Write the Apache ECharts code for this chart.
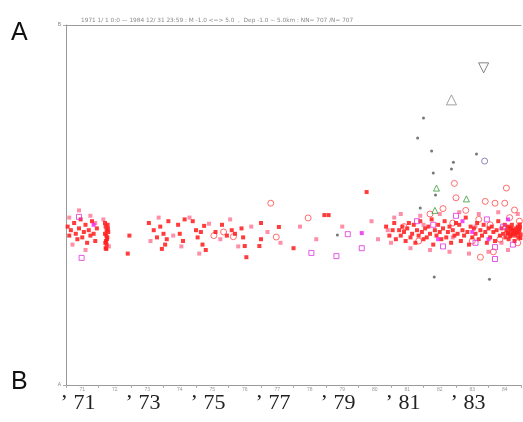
<!DOCTYPE html>
<html>
<head>
<meta charset="utf-8">
<script src="https://cdn.jsdelivr.net/npm/echarts@6/dist/echarts.min.js"></script>
<style>
  html, body { margin: 0; padding: 0; background: #fff; }
  #chart { width: 523px; height: 422px; }
</style>
</head>
<body>
<div id="chart"></div>
<script>
// [decimal year, position along A-B (0 = A, 100 = B)]
const yearTicks = ['71', '72', '73', '74', '75', '76', '77', '78', '79', '80', '81', '82', '83', '84'];

const redDots = [
  [1971.05, 44], [1971.1, 41.5], [1971.15, 43], [1971.25, 45], [1971.3, 42], [1971.35, 40.5],
  [1971.4, 43.5], [1971.45, 46], [1971.5, 41], [1971.55, 42.5], [1971.6, 44.5], [1971.65, 39.5],
  [1971.7, 43], [1971.75, 41.5], [1971.8, 45.5], [1971.85, 42], [1971.9, 40], [1971.95, 43.5],
  [1972.2, 45], [1972.22, 44], [1972.25, 43], [1972.2, 42], [1972.27, 41], [1972.23, 40],
  [1972.25, 39], [1972.22, 38], [1972.28, 44.5], [1972.3, 42.5], [1972.26, 40.5], [1972.21, 39.5],
  [1972.24, 37.8], [1972.29, 43.5], [1972.24, 41.5],
  [1972.95, 41.5], [1972.9, 36.5],
  [1973.55, 45], [1973.7, 43], [1973.8, 41], [1973.9, 44], [1974.0, 42], [1974.05, 39],
  [1974.15, 45.5], [1973.95, 37.8], [1974.1, 40.5],
  [1974.45, 44.5], [1974.5, 42], [1974.6, 40], [1974.65, 46],
  [1974.9, 45.5], [1975.0, 43], [1975.05, 41], [1975.15, 42.5], [1975.2, 39], [1975.25, 44.2], [1975.3, 37.5],
  [1975.6, 42.5], [1975.8, 44.5], [1975.95, 41.5], [1976.1, 43], [1976.2, 42],
  [1976.4, 43.5], [1976.45, 41], [1977.0, 45], [1977.0, 40.5], [1977.55, 43.9],
  [1976.5, 38.6], [1976.95, 38.6], [1976.55, 35.5], [1978.0, 38], [1978.95, 47.2], [1979.08, 47.2],
  [1980.25, 53.6],
  [1980.85, 44], [1980.95, 41.5], [1981.05, 43], [1981.1, 45], [1981.15, 40.5],
  [1981.25, 43], [1981.3, 41.5], [1981.35, 44], [1981.4, 42.5], [1981.45, 40], [1981.5, 43.5],
  [1981.55, 45], [1981.6, 41], [1981.65, 42], [1981.7, 44.5], [1981.75, 39.5], [1981.8, 43],
  [1981.85, 41.5], [1981.9, 45.5], [1981.95, 42.5], [1982.0, 40.5],
  [1982.05, 43.5], [1982.1, 41], [1982.15, 44], [1982.2, 42], [1982.25, 46], [1982.3, 39],
  [1982.35, 43], [1982.4, 41.5], [1982.45, 44.5], [1982.5, 42.5],
  [1982.55, 40.5], [1982.6, 43.5], [1982.65, 45.5], [1982.7, 41], [1982.75, 42.5], [1982.8, 44],
  [1982.85, 39.5], [1982.9, 43], [1982.95, 41.5], [1983.0, 45],
  [1983.05, 42], [1983.1, 44.5], [1983.15, 40], [1983.2, 43], [1983.25, 41.5], [1983.3, 46.5],
  [1983.35, 42.5], [1983.4, 39], [1983.45, 44], [1983.5, 41],
  [1983.55, 43.5], [1983.6, 42], [1983.65, 45], [1983.7, 40.5], [1983.75, 43], [1983.8, 41.5],
  [1983.85, 44.5], [1983.9, 42.5], [1983.95, 39.5], [1984.0, 43.5],
  [1984.05, 41], [1984.1, 44], [1984.15, 42.5], [1984.2, 40], [1984.25, 43], [1984.3, 45.5],
  [1984.35, 41.5], [1984.4, 43.5], [1984.45, 42], [1984.5, 44.5],
  [1984.52, 41], [1984.55, 43], [1984.58, 42], [1984.6, 44], [1984.62, 40.5], [1984.65, 43.5],
  [1984.68, 42.5], [1984.7, 41.5], [1984.72, 44.5], [1984.75, 42], [1984.78, 43], [1984.8, 40],
  [1984.82, 41.5], [1984.85, 43.5], [1984.88, 42.5], [1984.9, 44], [1984.92, 41], [1984.95, 42.8],
  [1984.97, 43.8], [1984.99, 41.8], [1984.6, 42.3], [1984.66, 41.3], [1984.74, 43.2], [1984.84, 42.2],
  [1984.93, 43.3], [1984.98, 40.8], [1984.7, 43.6], [1984.8, 42.6], [1984.9, 42.1], [1984.96, 44.6]
];

const pinkDots = [
  [1971.1, 46.5], [1971.2, 39], [1971.4, 48.5], [1971.6, 37.5], [1971.75, 47], [1971.9, 45],
  [1972.15, 46], [1972.32, 38.5],
  [1973.6, 40], [1973.85, 46.5], [1974.3, 41.5], [1974.55, 38.5], [1974.8, 46.5], [1975.1, 36.5],
  [1975.4, 44.8], [1975.75, 40.5], [1976.05, 46], [1976.3, 38.5], [1976.7, 44], [1977.2, 42.5],
  [1977.6, 39.5], [1978.2, 44], [1978.7, 40.5], [1979.5, 44], [1980.4, 45.5], [1980.6, 40.5],
  [1980.9, 43], [1981.0, 39.5], [1981.1, 46.5],
  [1981.3, 47.5], [1981.6, 38], [1981.9, 47], [1982.2, 37.5], [1982.5, 47.5], [1982.8, 37],
  [1983.1, 48], [1983.4, 36.5], [1983.7, 47.5], [1984.0, 37], [1984.3, 48], [1984.6, 37.5],
  [1984.9, 47.5], [1982.0, 44.5], [1982.9, 41], [1983.6, 44], [1984.4, 39.5]
];

const redCircles = [
  [1975.55, 41.5], [1975.85, 42.5], [1976.15, 41.2], [1977.3, 50.5], [1977.47, 41.1], [1978.45, 46.4],
  [1981.4, 44], [1981.85, 40], [1982.2, 47.5], [1982.6, 49], [1982.9, 45], [1983.0, 52],
  [1983.3, 48.5], [1983.5, 40], [1983.7, 46], [1983.9, 51], [1984.05, 44.5], [1984.2, 50.5],
  [1984.35, 40.5], [1984.5, 50.5], [1984.55, 54.7], [1984.65, 46.5], [1984.8, 48.6], [1984.9, 39.5],
  [1984.95, 45.5], [1983.75, 35.5], [1984.15, 37], [1982.95, 56]
];

const magentaSquares = [
  [1971.4, 46.7], [1971.48, 35.3], [1978.55, 36.7], [1979.32, 35.8], [1979.67, 41.9], [1980.1, 38],
  [1984.2, 38.3], [1984.2, 35], [1981.8, 45.5], [1982.6, 38.5], [1983.0, 47], [1983.6, 39.5],
  [1983.95, 46], [1984.45, 44], [1984.75, 39], [1982.3, 44.5]
];

const magentaDots = [
  [1980.1, 42.2], [1971.85, 44.5], [1982.45, 40.5], [1983.2, 45.5], [1984.0, 40.5], [1984.6, 46], [1983.5, 42.5]
];

const grayDots = [
  [1979.35, 41.7], [1982.33, 30], [1984.03, 29.4], [1982.92, 61.9], [1982.86, 60], [1982.3, 58.9],
  [1981.9, 49.2], [1981.82, 68.6], [1983.63, 64.2], [1982.37, 52.8], [1982.0, 74.2], [1982.25, 65]
];

const greenTriangles = [[1982.4, 54.7], [1983.32, 51.7], [1982.35, 48.5]];
const blueCircles = [[1983.88, 62.2]];
const bigTriUp = [[1982.86, 79.2]];
const bigTriDown = [[1983.85, 88.1]];

const header = '1971 1/ 1 0:0 \u2014 1984 12/ 31 23:59 : M -1.0 <=> 5.0  ,  Dep -1.0 ~ 5.0km : NN= 707 /N= 707';

const chart = echarts.init(document.getElementById('chart'), null, { renderer: 'canvas' });

const axisGray = { lineStyle: { color: '#9a9a9a', width: 1 } };

chart.setOption({
  animation: false,
  backgroundColor: '#fff',
  title: {
    text: header,
    left: 76, top: 12,
    textStyle: { fontSize: 5.8, color: '#8a8a8a', fontWeight: 'normal', fontFamily: 'DejaVu Sans' }
  },
  graphic: [
    { type: 'text', left: 11, top: 21, style: { text: 'A', fontSize: 25, fill: '#111', fontFamily: 'Liberation Sans' } },
    { type: 'text', left: 11, top: 370, style: { text: 'B', fontSize: 25, fill: '#111', fontFamily: 'Liberation Sans' } }
  ],
  grid: { left: 66, right: 2, top: 25, bottom: 37 },
  xAxis: [
    { type: 'value', min: 1971, max: 1985, position: 'bottom',
      axisLine: axisGray, axisTick: { show: false }, axisLabel: { show: false }, splitLine: { show: false } },
    { type: 'value', min: 1971, max: 1985, position: 'top',
      axisLine: axisGray, axisTick: { show: false }, axisLabel: { show: false }, splitLine: { show: false } },
    { type: 'category', data: yearTicks, position: 'bottom', boundaryGap: true,
      axisLine: { show: false }, axisTick: { show: true, length: 3, lineStyle: { color: '#aaa' } },
      axisLabel: { fontSize: 5, color: '#999', margin: 2 } },
    { type: 'value', min: 1971, max: 1985, interval: 2, position: 'bottom',
      axisLine: { show: false }, axisTick: { show: false }, splitLine: { show: false },
      axisLabel: {
        margin: 7, fontSize: 22, color: '#222', fontFamily: 'Liberation Serif',
        padding: [0, 0, 0, 24], showMaxLabel: false,
        formatter: v => (v < 1985 ? '\u2019 ' + String(v).slice(2) : '')
      } }
  ],
  yAxis: {
    type: 'value', min: 0, max: 100, interval: 100,
    axisLine: { show: true, lineStyle: { color: '#9a9a9a' } },
    axisTick: { show: true, length: 3, lineStyle: { color: '#aaa' } },
    splitLine: { show: false },
    axisLabel: { fontSize: 5, color: '#888', margin: 5, formatter: v => (v === 0 ? 'A' : 'B') }
  },
  series: [
    { type: 'scatter', data: pinkDots, symbol: 'rect', symbolSize: 4,
      itemStyle: { color: '#ff6a8c', opacity: 0.75 } },
    { type: 'scatter', data: redCircles, symbol: 'circle', symbolSize: 6,
      itemStyle: { color: 'rgba(0,0,0,0)', borderColor: '#ff4a4a', borderWidth: 1 } },
    { type: 'scatter', data: redDots, symbol: 'rect', symbolSize: 4,
      itemStyle: { color: '#ff2020', opacity: 0.88 } },
    { type: 'scatter', data: magentaSquares, symbol: 'rect', symbolSize: 5,
      itemStyle: { color: 'rgba(0,0,0,0)', borderColor: '#e030e0', borderWidth: 1 } },
    { type: 'scatter', data: magentaDots, symbol: 'rect', symbolSize: 4,
      itemStyle: { color: '#ee22ee' } },
    { type: 'scatter', data: grayDots, symbol: 'circle', symbolSize: 3,
      itemStyle: { color: '#555' } },
    { type: 'scatter', data: greenTriangles, symbol: 'triangle', symbolSize: 6,
      itemStyle: { color: 'rgba(0,0,0,0)', borderColor: '#3a9a3a', borderWidth: 1 } },
    { type: 'scatter', data: blueCircles, symbol: 'circle', symbolSize: 6,
      itemStyle: { color: 'rgba(0,0,0,0)', borderColor: '#6a6ab0', borderWidth: 1 } },
    { type: 'scatter', data: bigTriUp, symbol: 'triangle', symbolSize: 10,
      itemStyle: { color: 'rgba(0,0,0,0)', borderColor: '#888', borderWidth: 1 } },
    { type: 'scatter', data: bigTriDown, symbol: 'triangle', symbolSize: 10, symbolRotate: 180,
      itemStyle: { color: 'rgba(0,0,0,0)', borderColor: '#666', borderWidth: 1 } }
  ]
});
</script>
</body>
</html>
